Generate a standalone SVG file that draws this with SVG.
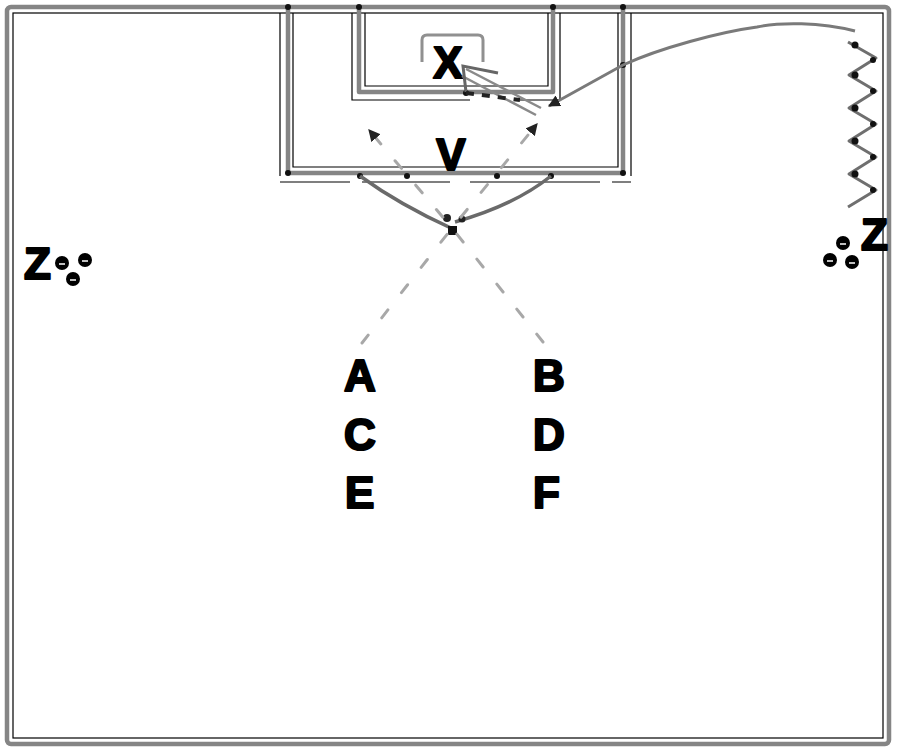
<svg xmlns="http://www.w3.org/2000/svg" width="900" height="752" viewBox="0 0 900 752">
<style>
.g{fill:none;stroke:#858585;stroke-width:4.5;stroke-linecap:round;stroke-linejoin:round}
.k{fill:none;stroke:#000;stroke-width:1.2}
.d{fill:none;stroke:#a8a8a8;stroke-width:3;stroke-dasharray:10 22;stroke-linecap:round}
.t{font-family:"Liberation Sans",Arial,sans-serif;font-weight:bold;font-size:44px;fill:#000;stroke:#000;stroke-width:2.2;stroke-linejoin:round}
.j{fill:#111}
</style>
<defs>
<marker id="ah" viewBox="0 0 10 10" refX="9" refY="5" markerWidth="4" markerHeight="4" orient="auto"><path d="M0,0 L10,5 L0,10 z" fill="#222"/></marker>
</defs>
<rect width="900" height="752" fill="#fff"/>
<g id="pitch">
<rect x="7" y="7" width="882" height="737" rx="4" class="g"/>
<rect x="13" y="13" width="870" height="725" class="k"/>
<path d="M288,7 V173 H623 V7" class="g"/>
<path d="M293,13 V167 H618 V13" class="k"/>
<path d="M280,13 V176 M631,13 V176 M280,182 H350 M362,182 H450 M470,182 H600 M612,182 H631" class="k"/>
<path d="M359,7 V92 H553 V7" class="g"/>
<path d="M365,13 V86 H548 V13" class="k"/>
<path d="M352,13 V100 H470 M520,100 H560 V13" class="k"/>
<path d="M422,62 V40 Q422,35 427,35 H478 Q483,35 483,40 V62" fill="none" stroke="#909090" stroke-width="3"/>
<g class="j">
<circle cx="288" cy="7" r="3"/><circle cx="359" cy="7" r="3"/><circle cx="553" cy="7" r="3"/><circle cx="623" cy="7" r="3"/>
<circle cx="288" cy="173" r="3"/><circle cx="623" cy="173" r="3"/>
<circle cx="360" cy="176" r="3"/><circle cx="407" cy="176" r="3"/><circle cx="497" cy="176" r="3"/><circle cx="551" cy="176" r="3"/>
<circle cx="466" cy="93" r="3"/><circle cx="623" cy="65" r="3"/>
</g>
</g>
<g id="goal-X"><text class="t" x="448" y="78" text-anchor="middle" font-size="42">X</text></g>
<g id="node-V"><text class="t" x="451" y="170" text-anchor="middle">V</text></g>
<g id="node-A"><text class="t" x="344" y="391">A</text></g>
<g id="node-B"><text class="t" x="533" y="391">B</text></g>
<g id="node-C"><text class="t" x="344" y="450">C</text></g>
<g id="node-D"><text class="t" x="533" y="450">D</text></g>
<g id="node-E"><text class="t" x="345" y="508">E</text></g>
<g id="node-F"><text class="t" x="533" y="508">F</text></g>
<g id="group-Z-left">
<text class="t" x="24" y="279">Z</text>
<circle cx="62" cy="263" r="7" fill="#000"/><circle cx="85" cy="260" r="7" fill="#000"/><circle cx="73" cy="279" r="7" fill="#000"/>
<path d="M59,264 h6 M82,261 h6 M70,280 h6" stroke="#fff" stroke-width="1.5"/>
</g>
<g id="group-Z-right">
<text class="t" x="861" y="250">Z</text>
<circle cx="843" cy="243" r="7" fill="#000"/><circle cx="830" cy="260" r="7" fill="#000"/><circle cx="852" cy="262" r="7" fill="#000"/>
<path d="M840,244 h6 M827,261 h6 M849,263 h6" stroke="#fff" stroke-width="1.5"/>
</g>
<g id="connectors">
<path d="M360,176 Q400,205 453,229 M551,176 Q515,205 455,222" fill="none" stroke="#6a6a6a" stroke-width="3.5"/>
<rect x="448" y="226" width="9" height="9" fill="#111"/>
<circle cx="447" cy="218" r="4" fill="#222"/><circle cx="462" cy="219" r="3.5" fill="#222"/>
<path d="M362,343 L452,228 L537,124" class="d" marker-end="url(#ah)"/>
<path d="M543,342 L452,228 L369,130" class="d" marker-end="url(#ah)"/>
<path d="M855,31 C820,22 780,22 757,27 C720,32 660,48 623,65 L549,106" fill="none" stroke="#7a7a7a" stroke-width="3" marker-end="url(#ah)"/>
<path d="M848,42 L876,58 L849,75 L876,91 L849,108 L876,124 L849,141 L876,157 L849,174 L876,190 L848,207" fill="none" stroke="#6f6f6f" stroke-width="3" stroke-linejoin="round"/>
<g class="j"><circle cx="855" cy="45" r="3.5"/><circle cx="873" cy="60" r="3"/><circle cx="855" cy="75" r="3.5"/><circle cx="873" cy="91" r="3"/><circle cx="855" cy="108" r="3.5"/><circle cx="873" cy="124" r="3"/><circle cx="855" cy="141" r="3.5"/><circle cx="873" cy="157" r="3"/><circle cx="855" cy="174" r="3.5"/><circle cx="873" cy="190" r="3"/></g>
<path d="M541,108 L466,69 M536,115 L462,76" fill="none" stroke="#8a8a8a" stroke-width="2.5"/>
<path d="M498,73 L463,66 L466,92" fill="none" stroke="#666" stroke-width="3"/>
<path d="M466,93 L520,100" fill="none" stroke="#222" stroke-width="4" stroke-dasharray="8 8"/>
</g>
</svg>
